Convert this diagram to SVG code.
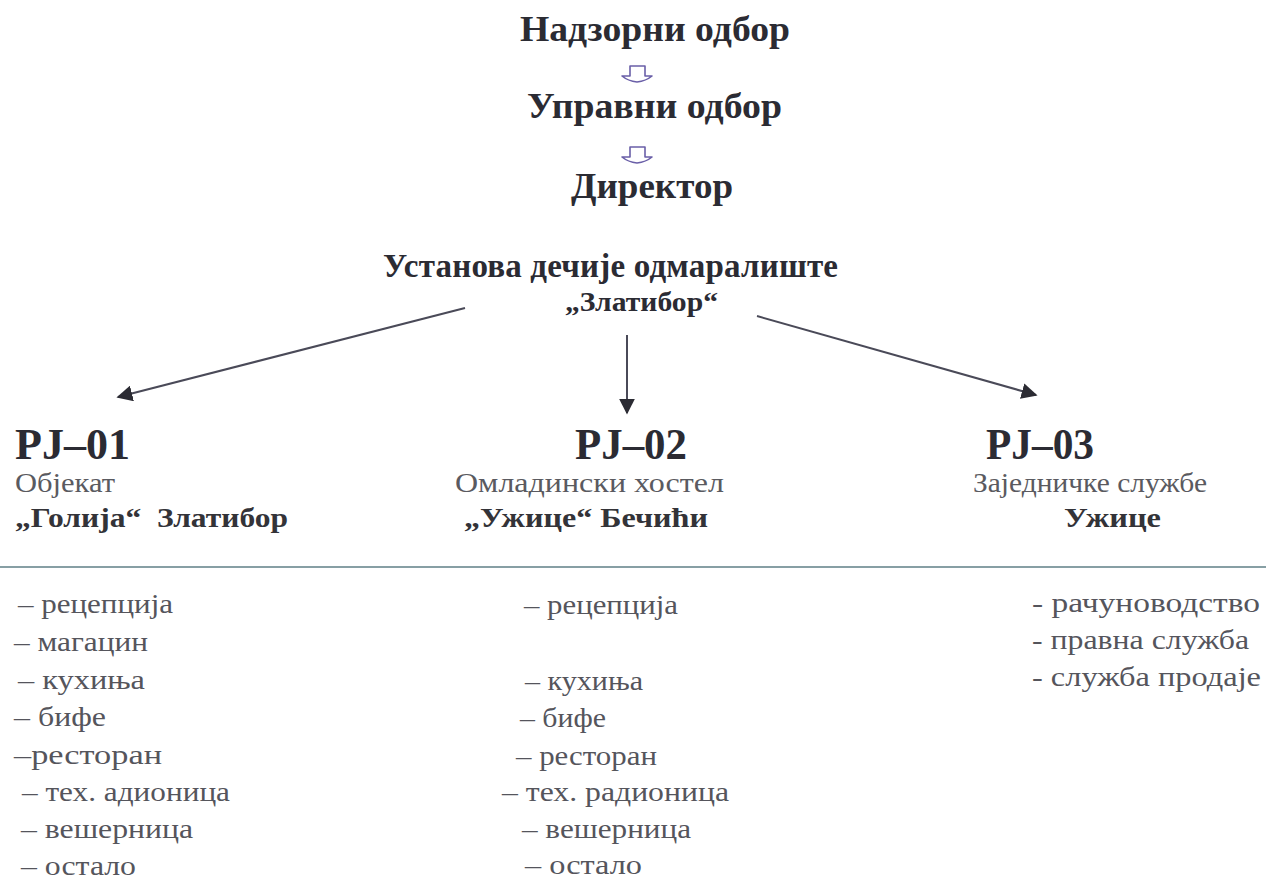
<svg xmlns="http://www.w3.org/2000/svg" width="1266" height="880" viewBox="0 0 1266 880">
<style>
text{font-family:"Liberation Serif","DejaVu Serif",serif;}
.h{font-weight:bold;fill:#2b2b33;}
.t1{font-size:36px;}
.pj{font-size:44px;}
.sub{font-size:28px;fill:#5a5a60;}
.bs{font-weight:bold;font-size:27px;fill:#333338;}
.li{font-size:27px;fill:#55555c;}
.conn{stroke:#4a4a58;stroke-width:2;fill:none;}
.hol{stroke:#6a5fa8;stroke-width:1.6;fill:#fff;stroke-linejoin:round;}
</style>
<defs>
<marker id="ah2" viewBox="0 0 10 10" refX="9" refY="5" markerWidth="16" markerHeight="16" markerUnits="userSpaceOnUse" orient="auto">
<path d="M0,0 L10,5 L0,10 Z" fill="#2b2b33"/>
</marker>
</defs>
<rect width="1266" height="880" fill="#ffffff"/>
<g id="nadzorni"><text class="h t1" x="520" y="41" textLength="270" lengthAdjust="spacingAndGlyphs">Надзорни одбор</text></g>
<g id="upravni"><text class="h t1" x="527" y="118" textLength="255" lengthAdjust="spacingAndGlyphs">Управни одбор</text></g>
<g id="direktor"><text class="h t1" x="571" y="198" textLength="162" lengthAdjust="spacingAndGlyphs">Директор</text></g>
<g id="ustanova">
<text class="h" font-size="33" x="383" y="277" textLength="455" lengthAdjust="spacing">Установа дечије одмаралиште</text>
<text class="h" font-size="27" x="565" y="311" textLength="153" lengthAdjust="spacingAndGlyphs">„Златибор“</text>
</g>
<g id="pj01">
<text class="h pj" x="15" y="459" textLength="115" lengthAdjust="spacingAndGlyphs">PJ–01</text>
<text class="sub" x="15" y="492" textLength="100" lengthAdjust="spacingAndGlyphs">Објекат</text>
<text class="bs" x="15" y="527" textLength="273" lengthAdjust="spacingAndGlyphs" xml:space="preserve">„Голија“  Златибор</text>
</g>
<g id="pj02">
<text class="h pj" x="575" y="459" textLength="112" lengthAdjust="spacingAndGlyphs">PJ–02</text>
<text class="sub" x="455" y="492" textLength="269" lengthAdjust="spacingAndGlyphs">Омладински хостел</text>
<text class="bs" x="464" y="527" textLength="244" lengthAdjust="spacingAndGlyphs">„Ужице“ Бечићи</text>
</g>
<g id="pj03">
<text class="h pj" x="986" y="459" textLength="108" lengthAdjust="spacingAndGlyphs">PJ–03</text>
<text class="sub" x="973" y="492" textLength="234" lengthAdjust="spacingAndGlyphs">Заједничке службе</text>
<text class="bs" x="1064" y="527" textLength="97" lengthAdjust="spacingAndGlyphs">Ужице</text>
</g>
<g id="list01">
<text class="li" x="18" y="613" textLength="155" lengthAdjust="spacingAndGlyphs">– рецепција</text>
<text class="li" x="14" y="651" textLength="134" lengthAdjust="spacingAndGlyphs">– магацин</text>
<text class="li" x="18" y="689" textLength="127" lengthAdjust="spacingAndGlyphs">– кухиња</text>
<text class="li" x="14" y="726" textLength="92" lengthAdjust="spacingAndGlyphs">– бифе</text>
<text class="li" x="14" y="764" textLength="148" lengthAdjust="spacingAndGlyphs">–ресторан</text>
<text class="li" x="22" y="801" textLength="208" lengthAdjust="spacingAndGlyphs">– тех. адионица</text>
<text class="li" x="21" y="838" textLength="172" lengthAdjust="spacingAndGlyphs">– вешерница</text>
<text class="li" x="21" y="875" textLength="115" lengthAdjust="spacingAndGlyphs">– остало</text>
</g>
<g id="list02">
<text class="li" x="524" y="614" textLength="154" lengthAdjust="spacingAndGlyphs">– рецепција</text>
<text class="li" x="525" y="690" textLength="118" lengthAdjust="spacingAndGlyphs">– кухиња</text>
<text class="li" x="520" y="727" textLength="86" lengthAdjust="spacingAndGlyphs">– бифе</text>
<text class="li" x="516" y="765" textLength="141" lengthAdjust="spacingAndGlyphs">– ресторан</text>
<text class="li" x="502" y="801" textLength="227" lengthAdjust="spacingAndGlyphs">– тех. радионица</text>
<text class="li" x="522" y="838" textLength="169" lengthAdjust="spacingAndGlyphs">– вешерница</text>
<text class="li" x="525" y="874" textLength="117" lengthAdjust="spacingAndGlyphs">– остало</text>
</g>
<g id="list03">
<text class="li" x="1032" y="612" textLength="228" lengthAdjust="spacingAndGlyphs">- рачуноводство</text>
<text class="li" x="1032" y="649" textLength="217" lengthAdjust="spacingAndGlyphs">- правна служба</text>
<text class="li" x="1032" y="686" textLength="229" lengthAdjust="spacingAndGlyphs">- служба продаје</text>
</g>
<g id="connectors">
<path class="hol" d="M630,66 L645,66 L645,76 L652,76 Q646,81 637,82 Q628,81 622,76 L630,76 Z"/>
<path class="hol" d="M630,147 L645,147 L645,157 L652,157 Q646,162 637,163 Q628,162 622,157 L630,157 Z"/>
<line class="conn" x1="465" y1="308" x2="118" y2="397" marker-end="url(#ah2)"/>
<line class="conn" x1="627" y1="335" x2="627" y2="413" marker-end="url(#ah2)"/>
<line class="conn" x1="757" y1="316" x2="1036" y2="395" marker-end="url(#ah2)"/>
<line x1="0" y1="567" x2="1266" y2="567" stroke="#5f7f86" stroke-width="1.5"/>
</g>
</svg>
